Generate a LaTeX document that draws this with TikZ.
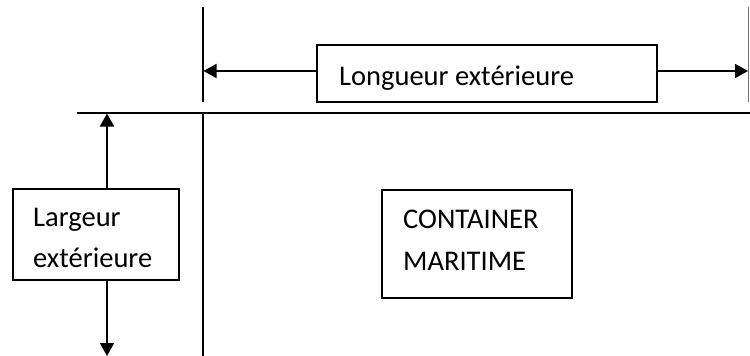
\documentclass[tikz,border=0pt]{standalone}
\usepackage{fontspec}
\setmainfont{Carlito}
\usetikzlibrary{arrows.meta}
\tikzset{
  boxnode/.style={draw=black, line width=1.5pt, inner sep=0pt, anchor=north west},
  txt/.style={inner sep=0pt, anchor=base west, font=\fontsize{28.5}{40}\selectfont},
  ln/.style={draw=black, line width=1.5pt},
  arr/.style={ln, -{Triangle[length=13pt,width=14pt]}}
}
\begin{document}
\begin{tikzpicture}[x=1pt,y=-1pt]
\useasboundingbox (0,0) rectangle (750,356);
% guide lines
\coordinate (vlTop) at (203,7);
\coordinate (vlBot) at (203,102);
\coordinate (vrTop) at (748.5,7);
\coordinate (vrBot) at (748.5,102);
\coordinate (hL) at (77,113);
\coordinate (hR) at (750,113);
\coordinate (v2Top) at (203,113);
\coordinate (v2Bot) at (203,356);
\draw[ln] (vlTop) -- (vlBot);
\draw[draw=black!55, line width=1.2pt] (vrTop) -- (vrBot);
\draw[ln] (hL) -- (hR);
\draw[ln] (v2Top) -- (v2Bot);
% length box
\node[boxnode, minimum width=340pt, minimum height=57pt] (lbox) at (316,44) {};
\node[txt] (ltxt) at (339,85) {Longueur extérieure};
\coordinate (tipL) at (203.5,71);
\coordinate (tipR) at (748,71);
\draw[arr] (lbox.west |- tipL) -- (tipL);
\draw[arr] (lbox.east |- tipR) -- (tipR);
% width box
\node[boxnode, minimum width=166pt, minimum height=91pt] (wbox) at (12,188) {};
\node[txt] (wtxt1) at (33,226) {Largeur};
\node[txt] (wtxt2) at (33,267) {extérieure};
\coordinate (wTopStart) at (107,188);
\coordinate (wTopTip) at (107,113.5);
\coordinate (wBotStart) at (107,279);
\coordinate (wBotTip) at (107,356);
\draw[arr] (wTopStart) -- (wTopTip);
\draw[arr] (wBotStart) -- (wBotTip);
% container box
\node[boxnode, minimum width=190pt, minimum height=108pt] (cbox) at (381,189) {};
\node[txt] (ctxt1) at (403,228) {CONTAINER};
\node[txt] (ctxt2) at (403,270) {MARITIME};
\end{tikzpicture}
\end{document}
